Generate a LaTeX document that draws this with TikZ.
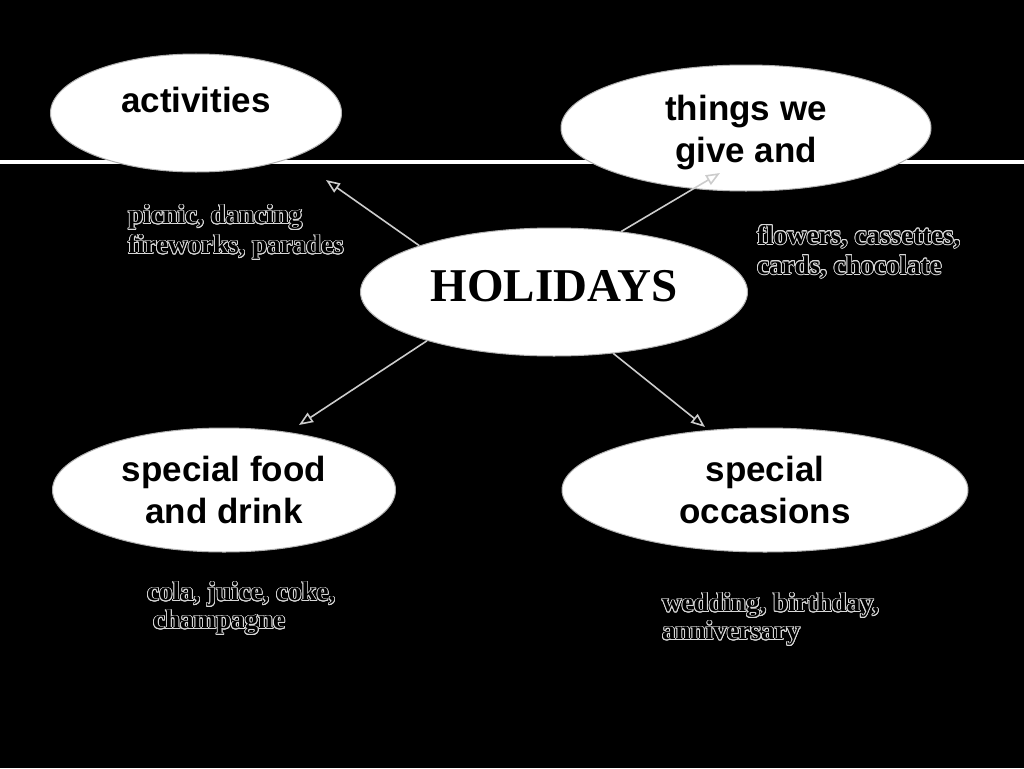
\documentclass[tikz,border=0pt]{standalone}
\usepackage{fontspec}
\setmainfont{Liberation Serif}
\newfontfamily\sansf{Liberation Sans}
\usepackage{contour}
\contourlength{0.8pt}
\newcommand{\olt}[1]{\contour{white!85!black}{#1}}
\usetikzlibrary{shapes.geometric,arrows.meta}
\begin{document}
\begin{tikzpicture}[x=1pt,y=-1pt,
  oval/.style={ellipse,fill=white,draw=gray!60,line width=1pt,inner sep=0pt},
  otext/.style={font=\sansf\bfseries\fontsize{35}{42}\selectfont,align=center,text=black},
  hoftext/.style={font=\bfseries\fontsize{47}{50}\selectfont,text=black},
  note/.style={font=\bfseries\fontsize{27}{#1}\selectfont,align=left,anchor=north west,inner sep=0pt,text=black},
  link/.style={draw=white!80!black,line width=1.6pt,-{Triangle[open,length=14pt,width=11pt]}}]
\fill[black] (0,0) rectangle (1024,768);
\useasboundingbox (0,0) rectangle (1024,768);
\draw[white,line width=4pt] (0,162) -- (1024,162);

\node[oval,otext,minimum width=291pt,minimum height=118pt] (act) at (196,113) {\raisebox{26pt}{activities}};
\node[oval,minimum width=370pt,minimum height=126pt,label={[otext,yshift=-5pt]center:{things we\\give and}}] (give) at (746,128) {};
\node[oval,hoftext,minimum width=387pt,minimum height=128pt] (hol) at (554,292) {\raisebox{12pt}{HOLIDAYS}};
\node[oval,otext,minimum width=343pt,minimum height=124pt] (food) at (224,490) {special food\\and drink};
\node[oval,otext,minimum width=406pt,minimum height=124pt] (occ) at (765,490) {special\\occasions};

\coordinate (t1) at (326,180);
\coordinate (t2) at (720,173);
\coordinate (t3) at (299,425);
\coordinate (t4) at (705,427);
\draw[link] (hol.161) -- (t1);
\draw[link] (hol.42) -- (t2);
\draw[link] (hol.201) -- (t3);
\draw[link] (hol.314) -- (t4);

\node[note=30] (n1) at (128,205) {\olt{picnic, dancing}\\\olt{fireworks, parades}};
\node[note=30] (n2) at (757,225) {\olt{flowers, cassettes,}\\\olt{cards, chocolate}};
\node[note=28] (n3) at (147,582) {\olt{cola, juice, coke,}\\\hspace*{6pt}\olt{champagne}};
\node[note=28] (n4) at (662,593) {\olt{wedding, birthday,}\\\olt{anniversary}};
\end{tikzpicture}
\end{document}
